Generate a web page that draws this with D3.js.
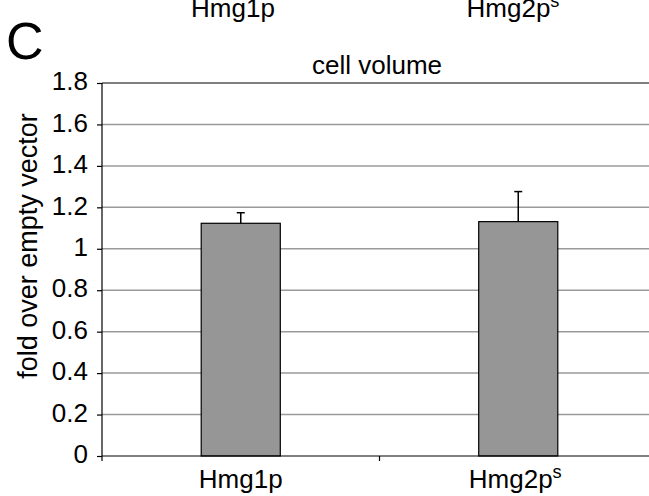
<!DOCTYPE html>
<html>
<head>
<meta charset="utf-8">
<script src="https://cdn.jsdelivr.net/npm/d3@7"></script>
<style>
  body { margin: 0; background: #fff; }
  text { font-family: "Liberation Sans", Arial, Helvetica, sans-serif; fill: #000; }
</style>
</head>
<body>
<script>
var categories = ["Hmg1p", "Hmg2p"],
  superscripts = ["", "s"],
  values = [1.123, 1.131],
  errors = [0.051, 0.145],
  yTicks = [0, 0.2, 0.4, 0.6, 0.8, 1, 1.2, 1.4, 1.6, 1.8];

var width = 649, height = 496,
  plotLeft = 102, plotRight = 657, plotTop = 83, plotBottom = 456;

var svg = d3.select("body").append("svg")
  .attr("width", width)
  .attr("height", height);

var x = d3.scaleBand()
  .domain(categories)
  .range([plotLeft, plotRight]);
var y = d3.scaleLinear()
  .domain([0, 1.8])
  .range([plotBottom, plotTop]);

// grid lines
svg.append("g").selectAll("line")
  .data(yTicks.filter(function (d) { return d > 0 && d < 1.8; }))
  .enter().append("line")
  .attr("x1", plotLeft).attr("x2", width)
  .attr("y1", function (d) { return y(d); })
  .attr("y2", function (d) { return y(d); })
  .attr("stroke", "#9a9a9a")
  .attr("stroke-width", 1.5);
// top border
svg.append("line")
  .attr("x1", plotLeft).attr("x2", width)
  .attr("y1", y(1.8)).attr("y2", y(1.8))
  .attr("stroke", "#000").attr("stroke-width", 1.2);

// y axis
var yAxis = d3.axisLeft(y)
  .tickValues(yTicks)
  .tickSize(5)
  .tickPadding(9)
  .tickFormat(function (d) { return String(+d.toFixed(1)); });
var gy = svg.append("g")
  .attr("transform", "translate(" + plotLeft + ",0)")
  .call(yAxis);
gy.select(".domain").remove();
gy.append("line").attr("x1", 0).attr("x2", 0)
  .attr("y1", plotTop).attr("y2", plotBottom + 5)
  .attr("stroke", "#000").attr("stroke-width", 1.2);
gy.selectAll(".tick line").attr("stroke", "#000").attr("stroke-width", 1.2);
gy.selectAll(".tick text")
  .style("font-size", "26px")
  .attr("dy", "0.26em")
  .style("font-family", "'Liberation Sans', Arial, sans-serif")
  .attr("fill", "#000");

// bars
var barW = x.bandwidth() * 0.285;
svg.append("g").selectAll("rect")
  .data(categories)
  .enter().append("rect")
  .attr("x", function (d) { return x(d) + x.bandwidth() / 2 - barW / 2; })
  .attr("y", function (d, i) { return y(values[i]); })
  .attr("width", barW)
  .attr("height", function (d, i) { return plotBottom - y(values[i]); })
  .attr("fill", "#969696")
  .attr("stroke", "#000")
  .attr("stroke-width", 1.2);

// error bars (upper only)
var err = svg.append("g").selectAll("g")
  .data(categories)
  .enter().append("g");
err.append("line")
  .attr("x1", function (d) { return x(d) + x.bandwidth() / 2; })
  .attr("x2", function (d) { return x(d) + x.bandwidth() / 2; })
  .attr("y1", function (d, i) { return y(values[i]); })
  .attr("y2", function (d, i) { return y(values[i] + errors[i]); })
  .attr("stroke", "#000").attr("stroke-width", 1.5);
err.append("line")
  .attr("x1", function (d) { return x(d) + x.bandwidth() / 2 - 4; })
  .attr("x2", function (d) { return x(d) + x.bandwidth() / 2 + 4; })
  .attr("y1", function (d, i) { return y(values[i] + errors[i]); })
  .attr("y2", function (d, i) { return y(values[i] + errors[i]); })
  .attr("stroke", "#000").attr("stroke-width", 1.5);

// x axis
svg.append("line")
  .attr("x1", plotLeft).attr("x2", width)
  .attr("y1", plotBottom).attr("y2", plotBottom)
  .attr("stroke", "#000").attr("stroke-width", 1.2);
svg.append("g").selectAll("line")
  .data(categories.slice(1))
  .enter().append("line")
  .attr("x1", function (d) { return x(d); })
  .attr("x2", function (d) { return x(d); })
  .attr("y1", plotBottom).attr("y2", plotBottom + 5)
  .attr("stroke", "#000").attr("stroke-width", 1.2);

function catLabel(sel, i) {
  sel.text(categories[i]);
  if (superscripts[i]) {
    sel.append("tspan")
      .attr("dy", "-0.55em")
      .style("font-size", "0.7em")
      .text(superscripts[i]);
  }
}
svg.append("g").selectAll("text")
  .data(categories)
  .enter().append("text")
  .attr("x", function (d, i) { return x(d) + x.bandwidth() / 2 + (superscripts[i] ? -3 : 0); })
  .attr("y", 488)
  .attr("text-anchor", "middle")
  .style("font-size", "26px")
  .each(function (d, i) { catLabel(d3.select(this), i); });

// labels cut off at top (from panel above)
var topX = [233, 513];
svg.append("g").selectAll("text")
  .data(categories)
  .enter().append("text")
  .attr("x", function (d, i) { return topX[i]; })
  .attr("y", 17)
  .attr("text-anchor", "middle")
  .style("font-size", "26px")
  .each(function (d, i) { catLabel(d3.select(this), i); });

// panel letter
svg.append("text")
  .attr("x", 6).attr("y", 59)
  .style("font-size", "52px")
  .text("C");

// title
svg.append("text")
  .attr("x", 377).attr("y", 74)
  .attr("text-anchor", "middle")
  .style("font-size", "26px")
  .text("cell volume");

// y label
svg.append("text")
  .attr("transform", "translate(37," + 246 + ")rotate(-90)")
  .attr("text-anchor", "middle")
  .style("font-size", "27px")
  .text("fold over empty vector");
</script>
</body>
</html>
